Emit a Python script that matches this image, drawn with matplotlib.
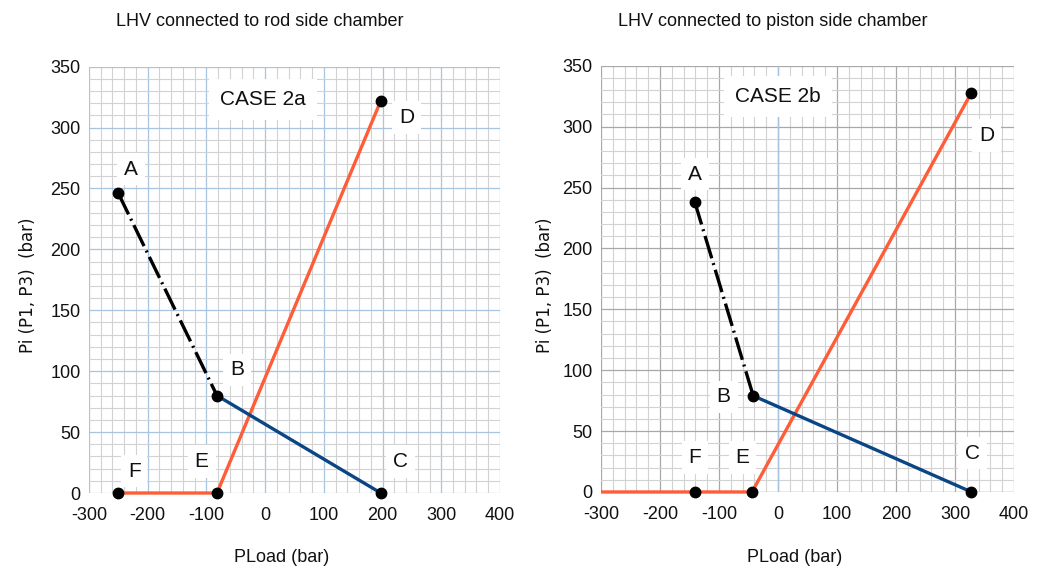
import matplotlib
matplotlib.use("Agg")
import matplotlib.pyplot as plt
from matplotlib.ticker import MultipleLocator
from matplotlib import font_manager

plt.rcParams["axes.unicode_minus"] = False

# --- data -----------------------------------------------------------------
# Case 2a: LHV connected to rod side chamber
a_pts_x = [-250, -82]          # A -> B (dash-dot)
a_pts_y = [246, 80]
a_bc_x = [-82, 197]            # B -> C
a_bc_y = [80, 0]
a_fed_x = [-250, -82, 197]     # F -> E -> D
a_fed_y = [0, 0, 322]
a_mark_x = [-250, -82, 197, 197, -82, -250]   # A B C D E F
a_mark_y = [246, 80, 0, 322, 0, 0]

# Case 2b: LHV connected to piston side chamber
b_pts_x = [-141, -42]
b_pts_y = [238, 79]
b_bc_x = [-42, 328]
b_bc_y = [79, 0]
b_fed_x = [-300, -141, -44, 328]
b_fed_y = [0, 0, 0, 328]
b_mark_x = [-141, -42, 328, 328, -44, -141]
b_mark_y = [238, 79, 0, 328, 0, 0]

point_names = ["A", "B", "C", "D", "E", "F"]
a_label_xy = [(-228, 266), (-48, 101), (230, 26), (241, 308), (-108, 26), (-223, 18)]
b_label_xy = [(-141, 261), (-92, 78), (330, 32), (354, 293), (-60, 28), (-141, 28)]

titles = ["LHV connected to rod side chamber", "LHV connected to piston side chamber"]
case_names = ["CASE 2a", "CASE 2b"]
case_xy = [(-4, 323), (0, 325)]

x_ticks = [-300, -200, -100, 0, 100, 200, 300, 400]
y_ticks = [0, 50, 100, 150, 200, 250, 300, 350]

# --- style ----------------------------------------------------------------
installed = {f.name for f in font_manager.fontManager.ttflist}
narrow = "Liberation Sans Narrow" if "Liberation Sans Narrow" in installed else "Liberation Sans"

ORANGE = "#ff5c38"
BLUE = "#0a4585"
BLACK = "#000000"

fig = plt.figure(figsize=(10.42, 5.71), dpi=100)
fig.patch.set_facecolor("white")

ax_a = fig.add_axes([0.0854, 0.1366, 0.3944, 0.7466])
ax_b = fig.add_axes([0.5768, 0.1384, 0.3963, 0.7465])


def setup(ax, major_color, zero_blue):
    ax.set_xlim(-300, 400)
    ax.set_ylim(0, 350)
    ax.set_xticks(x_ticks)
    ax.set_yticks(y_ticks)
    ax.xaxis.set_minor_locator(MultipleLocator(20))
    ax.yaxis.set_minor_locator(MultipleLocator(10))
    ax.grid(which="minor", color="#d2d2d2", linewidth=0.8)
    ax.grid(which="major", color=major_color, linewidth=0.9)
    if zero_blue:
        ax.axvline(0, color="#a9c4de", linewidth=1.0, zorder=0.6)
        ax.axhline(0, color="#a9c4de", linewidth=1.0, zorder=0.6)
    ax.set_axisbelow(True)
    for s in ax.spines.values():
        s.set_visible(False)
    ax.tick_params(which="both", length=0, labelsize=13)
    ax.tick_params(axis="x", pad=10)
    ax.tick_params(axis="y", pad=6)
    for lab in ax.get_xticklabels() + ax.get_yticklabels():
        lab.set_fontfamily(narrow)
        lab.set_color("#111111")


def draw(ax, ab_x, ab_y, bc_x, bc_y, fed_x, fed_y, mx, my, lxy):
    ax.plot(fed_x, fed_y, color=ORANGE, linewidth=2.4, solid_capstyle="butt",
            zorder=3, clip_on=False)
    ax.plot(bc_x, bc_y, color=BLUE, linewidth=2.4, zorder=3, clip_on=False)
    ax.plot(ab_x, ab_y, color=BLACK, linewidth=2.4,
            linestyle=(0, (7, 1.5, 0.6, 1.5)), dash_capstyle="butt", zorder=3)
    ax.plot(mx, my, linestyle="none", marker="o", markersize=7.5,
            color=BLACK, zorder=5, clip_on=False)
    for name, (tx, ty) in zip(point_names, lxy):
        ax.text(tx, ty, name, ha="center", va="center", fontsize=15,
                fontfamily=narrow, color="#111111", zorder=4,
                bbox=dict(facecolor="white", edgecolor="none", pad=5))


setup(ax_a, "#a9c4de", False)
setup(ax_b, "#a8a8a8", True)

draw(ax_a, a_pts_x, a_pts_y, a_bc_x, a_bc_y, a_fed_x, a_fed_y, a_mark_x, a_mark_y, a_label_xy)
draw(ax_b, b_pts_x, b_pts_y, b_bc_x, b_bc_y, b_fed_x, b_fed_y, b_mark_x, b_mark_y, b_label_xy)

for ax, cname, (cx, cy) in zip([ax_a, ax_b], case_names, case_xy):
    ax.text(cx, cy, cname, ha="center", va="center", fontsize=15,
            fontfamily=narrow, color="#111111", zorder=4,
            bbox=dict(facecolor="white", edgecolor="none", pad=8))

# titles, axis labels
fig.text(260 / 1042, 1 - 22 / 571, titles[0], ha="center", va="center",
         fontsize=13, fontfamily=narrow, color="#111111")
fig.text(773 / 1042, 1 - 22 / 571, titles[1], ha="center", va="center",
         fontsize=13, fontfamily=narrow, color="#111111")

for xc in (28, 545):
    fig.text(xc / 1042, 1 - 285 / 571, "Pi (P1, P3)  (bar)", rotation=90,
             ha="center", va="center", fontsize=12, fontfamily="DejaVu Sans",
             color="#111111")

fig.text(282 / 1042, 1 - 558 / 571, "PLoad (bar)", ha="center", va="center",
         fontsize=13, fontfamily=narrow, color="#111111")
fig.text(795 / 1042, 1 - 558 / 571, "PLoad (bar)", ha="center", va="center",
         fontsize=13, fontfamily=narrow, color="#111111")

fig.savefig("out.png", dpi=100, facecolor="white")
